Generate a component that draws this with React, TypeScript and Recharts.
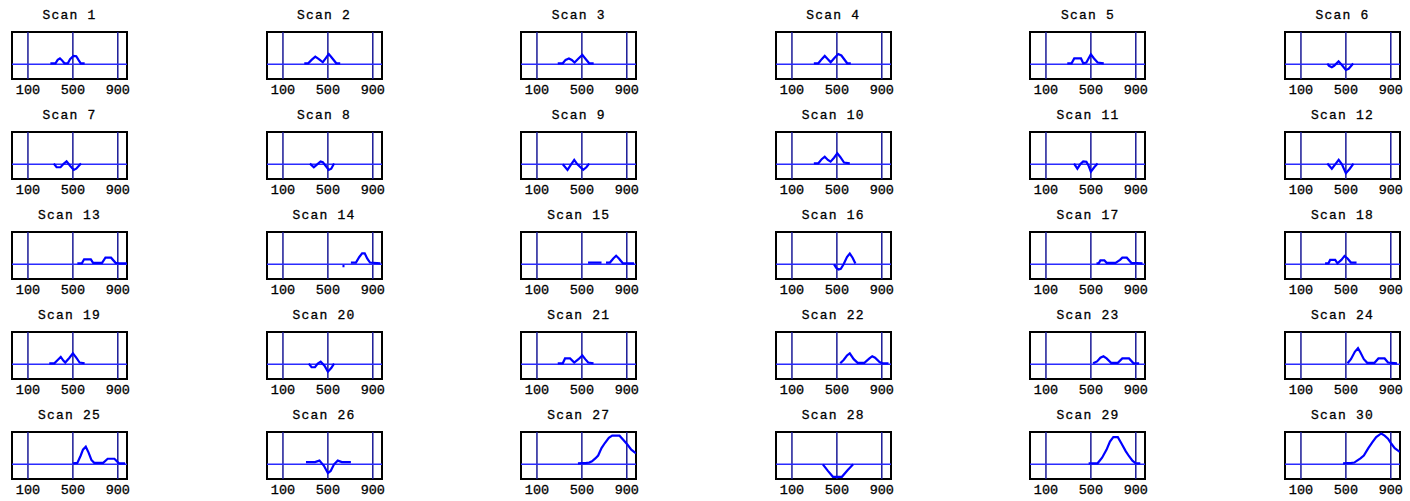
import React from 'react';
import { LineChart, Line, XAxis, YAxis, ReferenceLine, ReferenceArea } from 'recharts';

// x ticks and the blue guide lines sit on the same positions
const xTicks = [100, 500, 900];
const guideLines = [100, 500, 900];
const xDomain = [-42, 982];
const yDomain = [-1, 2.2];

type Pt = [number, number | null];

const scan1: Pt[] = [[300, 0.07], [345, 0.07], [365, 0.3], [385, 0.4], [400, 0.3], [425, 0.07], [455, 0.07], [475, 0.35], [505, 0.57], [530, 0.55], [550, 0.3], [570, 0.07], [605, 0.07]];
const scan2: Pt[] = [[290, 0.07], [325, 0.07], [355, 0.3], [388, 0.52], [420, 0.35], [455, 0.14], [480, 0.4], [508, 0.7], [530, 0.5], [575, 0.07], [610, 0.07]];
const scan3: Pt[] = [[285, 0.07], [330, 0.07], [355, 0.3], [385, 0.4], [410, 0.3], [435, 0.12], [470, 0.4], [504, 0.64], [530, 0.4], [565, 0.07], [605, 0.07]];
const scan4: Pt[] = [[295, 0.07], [335, 0.07], [365, 0.35], [392, 0.57], [420, 0.35], [445, 0.14], [480, 0.45], [512, 0.7], [540, 0.6], [592, 0.07], [624, 0.07]];
const scan5: Pt[] = [[290, 0.07], [328, 0.07], [352, 0.4], [412, 0.4], [432, 0.07], [460, 0.12], [500, 0.68], [528, 0.4], [560, 0.12], [615, 0.07]];
const scan6: Pt[] = [[335, 0.05], [350, -0.1], [375, -0.2], [395, -0.1], [435, 0.2], [470, -0.1], [500, -0.38], [525, -0.3], [565, 0.05]];
const scan7: Pt[] = [[330, 0.05], [355, -0.2], [390, -0.2], [420, 0.05], [444, 0.2], [475, -0.1], [508, -0.38], [530, -0.3], [572, 0.05]];
const scan8: Pt[] = [[340, 0.05], [375, -0.2], [405, 0.0], [435, 0.2], [455, 0.15], [480, -0.1], [508, -0.38], [530, -0.3], [555, 0.05]];
const scan9: Pt[] = [[330, 0.0], [372, -0.38], [400, -0.05], [432, 0.3], [460, 0.0], [512, -0.38], [540, -0.2], [565, 0.05]];
const scan10: Pt[] = [[295, 0.07], [335, 0.07], [365, 0.35], [392, 0.52], [420, 0.3], [444, 0.18], [475, 0.45], [504, 0.75], [530, 0.5], [564, 0.12], [615, 0.07]];
const scan11: Pt[] = [[350, 0.05], [380, -0.3], [405, 0.0], [432, 0.2], [460, 0.18], [480, -0.1], [500, -0.5], [530, -0.2], [560, 0.05]];
const scan12: Pt[] = [[335, 0.05], [375, -0.3], [405, 0.0], [436, 0.3], [465, 0.0], [500, -0.6], [535, -0.3], [568, 0.05]];
const scan13: Pt[] = [[540, 0.07], [580, 0.07], [600, 0.34], [660, 0.34], [680, 0.1], [760, 0.1], [790, 0.45], [840, 0.45], [880, 0.1], [910, 0.07], [980, 0.07]];
const scan14: Pt[] = [[630, -0.12], [648, -0.12], [660, null], [705, 0.12], [750, 0.12], [780, 0.5], [805, 0.75], [828, 0.75], [850, 0.4], [875, 0.12], [968, 0.07]];
const scan15: Pt[] = [[555, 0.12], [675, 0.12], [690, null], [715, 0.12], [750, 0.12], [780, 0.4], [805, 0.58], [830, 0.4], [865, 0.07], [965, 0.07]];
const scan16: Pt[] = [[475, 0.0], [495, -0.25], [515, -0.35], [535, -0.3], [560, 0.0], [590, 0.5], [615, 0.73], [640, 0.45], [665, 0.05]];
const scan17: Pt[] = [[550, 0.07], [570, 0.07], [585, 0.27], [620, 0.27], [640, 0.1], [720, 0.1], [760, 0.3], [780, 0.45], [820, 0.45], [860, 0.1], [960, 0.07]];
const scan18: Pt[] = [[315, 0.07], [345, 0.07], [360, 0.3], [405, 0.3], [425, 0.07], [460, 0.3], [488, 0.57], [515, 0.4], [545, 0.12], [595, 0.12]];
const scan19: Pt[] = [[290, 0.07], [335, 0.07], [365, 0.3], [392, 0.5], [415, 0.25], [432, 0.12], [470, 0.45], [500, 0.75], [530, 0.45], [560, 0.12], [605, 0.07]];
const scan20: Pt[] = [[330, 0.05], [355, -0.2], [385, -0.2], [410, 0.05], [436, 0.18], [470, -0.1], [500, -0.5], [530, -0.25], [555, 0.05]];
const scan21: Pt[] = [[285, 0.07], [330, 0.07], [350, 0.4], [395, 0.4], [432, 0.12], [470, 0.35], [504, 0.6], [530, 0.35], [556, 0.12], [604, 0.07]];
const scan22: Pt[] = [[530, 0.07], [560, 0.3], [590, 0.6], [615, 0.75], [650, 0.35], [685, 0.1], [745, 0.1], [790, 0.4], [815, 0.55], [840, 0.45], [880, 0.15], [905, 0.07], [960, 0.07]];
const scan23: Pt[] = [[520, 0.07], [555, 0.2], [585, 0.45], [612, 0.55], [640, 0.4], [680, 0.1], [740, 0.1], [780, 0.4], [840, 0.4], [880, 0.07], [930, 0.07]];
const scan24: Pt[] = [[515, 0.07], [545, 0.35], [580, 0.85], [608, 1.1], [630, 0.8], [660, 0.35], [690, 0.1], [755, 0.1], [790, 0.4], [845, 0.4], [875, 0.12], [905, 0.1], [955, 0.07]];
const scan25: Pt[] = [[500, 0.07], [540, 0.1], [570, 0.6], [590, 1.0], [615, 1.2], [640, 0.8], [665, 0.3], [690, 0.1], [770, 0.1], [810, 0.38], [870, 0.38], [910, 0.07], [965, 0.07]];
const scan26: Pt[] = [[305, 0.15], [385, 0.15], [425, 0.25], [465, -0.1], [500, -0.6], [525, -0.45], [555, 0.0], [588, 0.25], [625, 0.15], [705, 0.15]];
const scan27: Pt[] = [[465, 0.07], [540, 0.1], [565, 0.12], [590, 0.2], [620, 0.4], [645, 0.6], [675, 1.1], [705, 1.45], [740, 1.8], [770, 1.95], [835, 1.95], [870, 1.65], [905, 1.35], [940, 1.0], [982, 0.75]];
const scan28: Pt[] = [[375, 0.0], [420, -0.45], [465, -0.85], [545, -0.85], [595, -0.4], [645, 0.0]];
const scan29: Pt[] = [[480, 0.07], [560, 0.07], [600, 0.45], [640, 1.0], [670, 1.55], [700, 1.85], [740, 1.85], [770, 1.45], [810, 0.9], [840, 0.55], [870, 0.25], [900, 0.07], [940, 0.07]];
const scan30: Pt[] = [[475, 0.07], [550, 0.1], [575, 0.12], [600, 0.25], [630, 0.4], [660, 0.6], [700, 1.1], [735, 1.5], [770, 1.85], [815, 2.1], [845, 1.95], [875, 1.75], [905, 1.4], [935, 1.1], [980, 0.85]];

const scans = [
  scan1, scan2, scan3, scan4, scan5, scan6,
  scan7, scan8, scan9, scan10, scan11, scan12,
  scan13, scan14, scan15, scan16, scan17, scan18,
  scan19, scan20, scan21, scan22, scan23, scan24,
  scan25, scan26, scan27, scan28, scan29, scan30,
];

const COLS = 6;
const BOX_W = 115;
const BOX_H = 47;
const PAD = 20;
const TOP = 32;
const font = '"Liberation Mono", "DejaVu Sans Mono", monospace';

const ScanPanel = ({ title, points, boxLeft, boxTop }: { title: string; points: Pt[]; boxLeft: number; boxTop: number }) => {
  const data = points.map(([x, y]) => ({ x, y }));
  const w = BOX_W + PAD * 2;
  const h = TOP + BOX_H + 21;
  return (
    <div style={{ position: 'absolute', left: boxLeft - PAD, top: boxTop - TOP, width: w, height: h }}>
      <div
        style={{
          position: 'absolute', left: 0, width: w, top: 10, textAlign: 'center',
          fontFamily: font, fontSize: 13, lineHeight: '12px', letterSpacing: 1.2, color: '#000',
          WebkitTextStroke: '0.3px #000',
        }}
      >
        {title}
      </div>
      <LineChart width={w} height={h} data={data} margin={{ top: TOP, right: PAD, bottom: 0, left: PAD }}>
        <XAxis
          type="number" dataKey="x" domain={xDomain} ticks={xTicks} allowDataOverflow
          height={21} tickLine={false} tickSize={4} tickMargin={1} interval={0}
          axisLine={false}
          tick={{ fill: '#000', fontSize: 13.5, fontFamily: font, stroke: '#000', strokeWidth: 0.3 }}
        />
        <YAxis hide type="number" domain={yDomain} allowDataOverflow />
        {guideLines.map((g) => (
          <ReferenceLine key={g} x={g} stroke="#1a1a96" strokeWidth={1.5} />
        ))}
        <ReferenceLine y={0} stroke="#2b2bff" strokeWidth={1.5} />
        <Line type="linear" dataKey="y" stroke="#0000ff" strokeWidth={2.2} dot={false}
          connectNulls={false} isAnimationActive={false} />
        <ReferenceArea x1={xDomain[0]} x2={xDomain[1]} y1={yDomain[0]} y2={yDomain[1]}
          fill="none" stroke="#000" strokeWidth={2} fillOpacity={0} ifOverflow="visible" />
      </LineChart>
    </div>
  );
};

export default function App() {
  return (
    <div style={{ position: 'absolute', left: 0, top: 0, width: 1410, height: 501, background: '#fff' }}>
      {scans.map((pts, i) => {
        const col = i % COLS;
        const row = Math.floor(i / COLS);
        return (
          <ScanPanel
            key={i}
            title={`Scan ${i + 1}`}
            points={pts}
            boxLeft={12 + col * 254.6}
            boxTop={32 + row * 100}
          />
        );
      })}
    </div>
  );
}
